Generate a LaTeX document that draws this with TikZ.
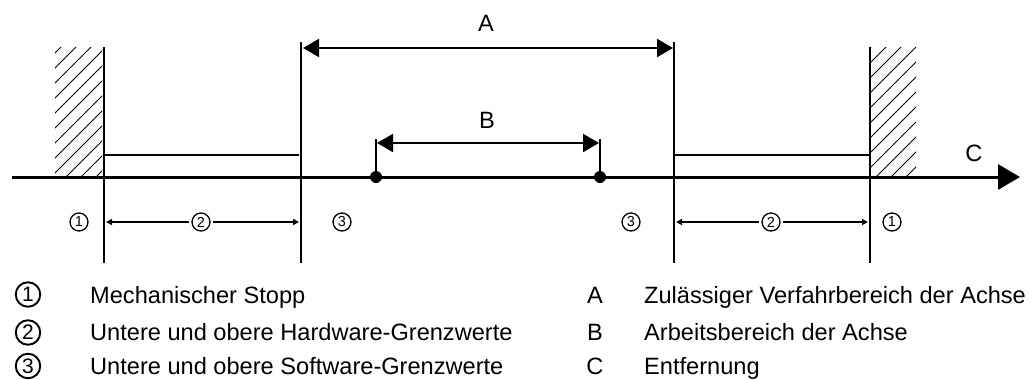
\documentclass[tikz,border=0pt]{standalone}
\usepackage{fontspec}
\setmainfont{Liberation Sans}
\usetikzlibrary{arrows.meta}
\tikzset{
  lbl/.style={inner sep=0pt, font=\fontsize{23.6}{28}\selectfont},
  circsmall/.style={circle, draw, line width=1.3pt, inner sep=0pt, minimum size=18pt, font=\fontsize{14.5}{16}\selectfont},
  circbig/.style={circle, draw, line width=1.9pt, inner sep=0pt, minimum size=24.5pt, font=\fontsize{21}{24}\selectfont},
  axisline/.style={line width=3pt, -{Triangle[length=22pt,width=25pt]}},
  limitline/.style={line width=2pt},
  bigdim/.style={line width=2pt, {Triangle[length=16pt,width=18pt]}-{Triangle[length=16pt,width=18pt]}},
  smalldim/.style={line width=1.6pt, -{Triangle[length=6pt,width=6pt]}},
  hatchline/.style={line width=1pt},
  dotmark/.style={circle, fill=black, inner sep=0pt, minimum size=12pt}
}
\begin{document}
\begin{tikzpicture}[x=1pt,y=-1pt]
\useasboundingbox (0,0) rectangle (1036,380);
% hatching
\begin{scope}
  \clip (55,47) rectangle (102,175);
  \foreach \c in {93,108,...,288} {
    \draw[hatchline] (40,\c-40) -- (140,\c-140);
  }
\end{scope}
\begin{scope}
  \clip (871,47) rectangle (916,175);
  \foreach \c in {918,933,...,1098} {
    \draw[hatchline] (860,\c-860) -- (960,\c-960);
  }
\end{scope}
% coordinates
\coordinate (axL) at (12,177);
\coordinate (axR) at (1020,177);
\coordinate (s1t) at (104,47);   \coordinate (s1b) at (104,263);
\coordinate (h1t) at (301,42);   \coordinate (h1b) at (301,263);
\coordinate (h2t) at (674,42);   \coordinate (h2b) at (674,263);
\coordinate (s2t) at (870,47);   \coordinate (s2b) at (870,263);
\coordinate (u1a) at (104,155);  \coordinate (u1b) at (299,155);
\coordinate (u2a) at (674,155);  \coordinate (u2b) at (871,155);
\coordinate (aL) at (303,48);    \coordinate (aR) at (673,48);
\coordinate (b1t) at (376,139);  \coordinate (b2t) at (600,139);
\coordinate (bL) at (377,143);   \coordinate (bR) at (599,143);
\coordinate (d1L) at (106,222);  \coordinate (d1R) at (299,222);
\coordinate (d2L) at (676,222);  \coordinate (d2R) at (868,222);
% axis
\draw[axisline] (axL) -- (axR);
% vertical lines
\draw[limitline] (s1t) -- (s1b);
\draw[limitline] (h1t) -- (h1b);
\draw[limitline] (h2t) -- (h2b);
\draw[limitline] (s2t) -- (s2b);
% upper limit lines
\draw[limitline] (u1a) -- (u1b);
\draw[limitline] (u2a) -- (u2b);
% working range dots and ticks
\node[dotmark] (p1) at (376,177) {};
\node[dotmark] (p2) at (600,177) {};
\draw[limitline] (p1.center) -- (b1t);
\draw[limitline] (p2.center) -- (b2t);
% A and B dimension arrows
\draw[bigdim] (aL) -- (aR);
\draw[bigdim] (bL) -- (bR);
\node[lbl] (labA) at (486,23) {A};
\node[lbl] (labB) at (487,120) {B};
\node[lbl] (labC) at (974,153) {C};
% hardware limit dimensions
\node[circsmall] (n2a) at (201,222) {2};
\node[circsmall] (n2b) at (771,222) {2};
\draw[smalldim] ([xshift=-2.5pt]n2a.west) -- (d1L);
\draw[smalldim] ([xshift=2.5pt]n2a.east) -- (d1R);
\draw[smalldim] ([xshift=-2.5pt]n2b.west) -- (d2L);
\draw[smalldim] ([xshift=2.5pt]n2b.east) -- (d2R);
\node[circsmall] (n1a) at (79,222) {1};
\node[circsmall] (n1b) at (892,222) {1};
\node[circsmall] (n3a) at (342,222) {3};
\node[circsmall] (n3b) at (631,222) {3};
% legend
\node[circbig] (g1) at (28,294.5) {1};
\node[circbig] (g2) at (28,332.5) {2};
\node[circbig] (g3) at (28,366) {3};
\node[lbl, anchor=base west] (t1) at (90,303) {Mechanischer Stopp};
\node[lbl, anchor=base west] (t2) at (90,340) {Untere und obere Hardware-Grenzwerte};
\node[lbl, anchor=base west] (t3) at (90,374.5) {Untere und obere Software-Grenzwerte};
\node[lbl, anchor=base] (gA) at (595,303) {A};
\node[lbl, anchor=base] (gB) at (595,340) {B};
\node[lbl, anchor=base] (gC) at (595,374.5) {C};
\node[lbl, anchor=base west] (tA) at (644,303) {Zulässiger Verfahrbereich der Achse};
\node[lbl, anchor=base west] (tB) at (644,340) {Arbeitsbereich der Achse};
\node[lbl, anchor=base west] (tC) at (644,374.5) {Entfernung};
\end{tikzpicture}
\end{document}
